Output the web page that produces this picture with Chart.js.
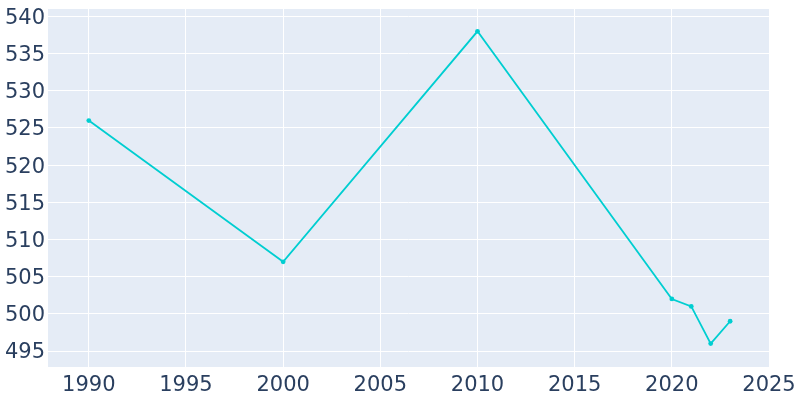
<!DOCTYPE html>
<html>
<head>
<meta charset="utf-8">
<script src="https://cdn.jsdelivr.net/npm/chart.js@4/dist/chart.umd.min.js"></script>
<style>
  html, body { margin: 0; padding: 0; background: #fff; }
  #wrap { width: 800px; height: 400px; }
</style>
</head>
<body>
<div id="wrap"><canvas id="myChart"></canvas></div>
<script>
var years = [1990, 2000, 2010, 2020, 2021, 2022, 2023];
var population = [526, 507, 538, 502, 501, 496, 499];

var tickColor = '#2a3f5f';

// paint plot area like plotly's default template
var plotBg = {
    id: 'plotBg',
    beforeDraw: function (chart) {
        var a = chart.chartArea, ctx = chart.ctx;
        ctx.save();
        ctx.fillStyle = '#E5ECF6';
        ctx.fillRect(a.left, a.top, a.right - a.left, a.bottom - a.top);
        ctx.restore();
    }
};

var ctx = document.getElementById('myChart');
var myChart = new Chart(ctx, {
    type: 'line',
    data: {
        datasets: [{
            data: years.map(function (y, i) { return {x: y, y: population[i]}; }),
            borderColor: '#00CED1',
            backgroundColor: '#00CED1',
            borderWidth: 1.8,
            pointRadius: 2.4,
            pointBorderWidth: 0,
            pointHoverRadius: 2.4,
            tension: 0
        }]
    },
    plugins: [plotBg],
    options: {
        responsive: true,
        maintainAspectRatio: false,
        animation: false,
        layout: { padding: { top: 9, right: 31, left: 0, bottom: 0 } },
        plugins: { legend: { display: false }, tooltip: { enabled: false } },
        scales: {
            x: {
                type: 'linear',
                min: 1987.9,
                max: 2025,
                border: { display: false },
                grid: { color: '#ffffff', lineWidth: 1, drawTicks: false },
                ticks: {
                    stepSize: 5,
                    includeBounds: false,
                    padding: 6,
                    color: tickColor,
                    font: { family: 'DejaVu Sans', size: 21 },
                    maxRotation: 0,
                    callback: function (v) { return String(v); }
                },
                afterFit: function (s) { s.height = 33; s.paddingLeft = 0; s.paddingRight = 0; }
            },
            y: {
                min: 492.85,
                max: 541,
                border: { display: false },
                grid: { color: '#ffffff', lineWidth: 1, drawTicks: false },
                ticks: {
                    stepSize: 5,
                    includeBounds: false,
                    padding: 3,
                    labelOffset: 2,
                    color: tickColor,
                    font: { family: 'DejaVu Sans', size: 21 }
                },
                afterFit: function (s) { s.width = 48; s.paddingTop = 0; s.paddingBottom = 0; }
            }
        }
    }
});
</script>
</body>
</html>
